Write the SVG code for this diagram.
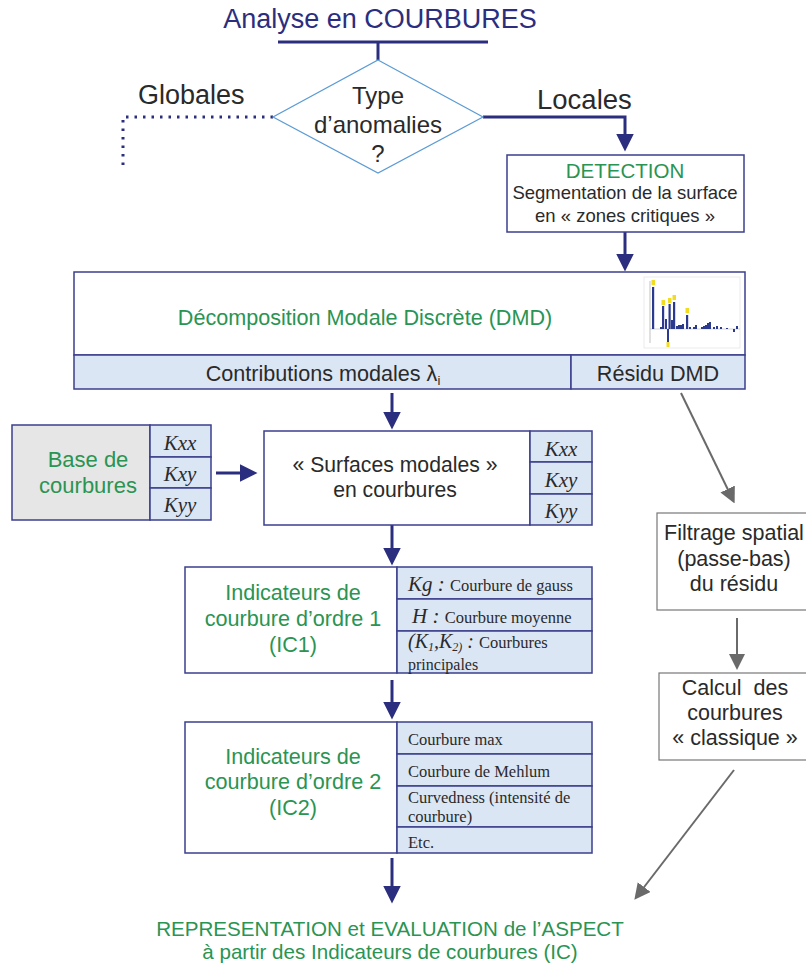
<svg xmlns="http://www.w3.org/2000/svg" width="806" height="964" viewBox="0 0 806 964">
<defs>
<style>
.sans{font-family:"Liberation Sans",Arial,sans-serif;}
.serif{font-family:"Liberation Serif","Times New Roman",serif;}
.navy{fill:#2b2e7e;}
.green{fill:#2a9452;}
.dark{fill:#2a2a2a;}
.box{fill:#ffffff;stroke:#3b3f8c;stroke-width:1.5;}
.cell{fill:#dbe6f5;stroke:#3b3f8c;stroke-width:1.5;}
.grey{fill:#e6e6e6;stroke:#3b3f8c;stroke-width:1.5;}
.gbox{fill:#ffffff;stroke:#777;stroke-width:1.2;}
.nline{stroke:#2b2e7e;stroke-width:3;fill:none;}
.gline{stroke:#6a6a6a;stroke-width:2;fill:none;}
.bar{fill:#2b3a8f;}
.yel{fill:#f2dc22;}
</style>
<marker id="an" markerWidth="6" markerHeight="6" refX="3.5" refY="3" orient="auto" markerUnits="strokeWidth" viewBox="0 0 6 6">
<path d="M0,0 L6,3 L0,6 Z" fill="#2b2e7e"/>
</marker>
<marker id="ag" markerWidth="8" markerHeight="8" refX="5" refY="4" orient="auto" markerUnits="strokeWidth" viewBox="0 0 8 8">
<path d="M0,0 L8,4 L0,8 Z" fill="#6a6a6a"/>
</marker>
</defs>

<g id="title">
<text class="sans navy" x="380" y="28" font-size="27" text-anchor="middle">Analyse en COURBURES</text>
</g>

<g id="connectors">
<line class="nline" x1="278" y1="42" x2="488" y2="42" stroke-width="4"/>
<line class="nline" x1="378" y1="42" x2="378" y2="60"/>
<polyline points="273,117 123,117 123,168" fill="none" stroke="#2b2e7e" stroke-width="3" stroke-dasharray="2.5,6"/>
<polyline class="nline" points="483,117 625,117 625,144" marker-end="url(#an)"/>
<line class="nline" x1="625" y1="232" x2="625" y2="264" marker-end="url(#an)"/>
<line class="nline" x1="392" y1="393" x2="392" y2="422" marker-end="url(#an)"/>
<line class="nline" x1="216" y1="473" x2="250" y2="473" marker-end="url(#an)"/>
<line class="nline" x1="392" y1="525" x2="392" y2="558" marker-end="url(#an)"/>
<line class="nline" x1="392" y1="680" x2="392" y2="712" marker-end="url(#an)"/>
<line class="nline" x1="392" y1="858" x2="392" y2="896" marker-end="url(#an)"/>
<line class="gline" x1="681" y1="393" x2="732" y2="498" marker-end="url(#ag)"/>
<line class="gline" x1="737" y1="618" x2="737" y2="664" marker-end="url(#ag)"/>
<line class="gline" x1="734" y1="770" x2="638" y2="895" marker-end="url(#ag)"/>
</g>

<g id="decision">
<polygon points="378,60 483,117 378,173 273,117" fill="#fff" stroke="#5b9bd5" stroke-width="1.2"/>
<text class="sans dark" x="378" y="104" font-size="24" text-anchor="middle">Type</text>
<text class="sans dark" x="378" y="133" font-size="24" text-anchor="middle">d’anomalies</text>
<text class="sans dark" x="378" y="162" font-size="24" text-anchor="middle">?</text>
</g>

<g id="label-globales">
<text class="sans dark" x="138" y="104" font-size="27">Globales</text>
</g>
<g id="label-locales">
<text class="sans dark" x="537" y="109" font-size="27.5">Locales</text>
</g>

<g id="detection">
<rect class="box" x="507" y="155" width="237" height="77"/>
<text class="sans green" x="625" y="178" font-size="20.5" text-anchor="middle">DETECTION</text>
<text class="sans dark" x="625" y="199" font-size="18.5" text-anchor="middle">Segmentation de la surface</text>
<text class="sans dark" x="625" y="222" font-size="18.5" text-anchor="middle">en « zones critiques »</text>
</g>

<g id="dmd">
<rect class="box" x="74" y="272" width="671" height="83"/>
<rect class="cell" x="74" y="355" width="497" height="34"/>
<rect class="cell" x="571" y="355" width="174" height="34"/>
<text class="sans green" x="365" y="325" font-size="21.6" text-anchor="middle">Décomposition Modale Discrète (DMD)</text>
<text class="sans dark" x="323" y="381" font-size="21.6" text-anchor="middle">Contributions modales λ<tspan font-size="13" dy="4">i</tspan></text>
<text class="sans dark" x="658" y="381" font-size="21.6" text-anchor="middle">Résidu DMD</text>
<g id="chart">
<rect x="644" y="277" width="96" height="71" fill="#fff" stroke="#ddd" stroke-width="0.6"/>
<line x1="650" y1="329" x2="740" y2="329" stroke="#bbb" stroke-width="0.6"/>
<line x1="650" y1="281" x2="650" y2="343" stroke="#999" stroke-width="0.6"/>
<rect class="bar" x="652" y="287" width="2.2" height="42"/>
<rect class="bar" x="660" y="327" width="2" height="2"/>
<rect class="bar" x="662" y="306" width="2.2" height="23"/>
<rect class="bar" x="665" y="319" width="2" height="10"/>
<rect class="bar" x="667" y="329" width="2" height="18"/>
<rect class="bar" x="668.5" y="304" width="2.2" height="25"/>
<rect class="bar" x="671" y="320" width="2" height="9"/>
<rect class="bar" x="673" y="302" width="2.2" height="27"/>
<rect class="bar" x="676" y="326" width="2" height="3"/>
<rect class="bar" x="678" y="325" width="2" height="4"/>
<rect class="bar" x="680" y="325" width="2" height="4"/>
<rect class="bar" x="682" y="324" width="2" height="5"/>
<rect class="bar" x="686" y="315" width="2.2" height="14"/>
<rect class="bar" x="689" y="327" width="2" height="2"/>
<rect class="bar" x="693" y="327" width="2" height="2"/>
<rect class="bar" x="695" y="325" width="2" height="4"/>
<rect class="bar" x="701" y="327" width="2" height="2"/>
<rect class="bar" x="703" y="326" width="2" height="3"/>
<rect class="bar" x="705" y="325" width="2" height="4"/>
<rect class="bar" x="707" y="323" width="2" height="6"/>
<rect class="bar" x="709" y="322" width="2" height="7"/>
<rect class="bar" x="713" y="327" width="2" height="2"/>
<rect class="bar" x="716" y="326" width="2" height="3"/>
<rect class="bar" x="720" y="327" width="2" height="2"/>
<rect class="bar" x="726" y="328" width="2" height="1"/>
<rect class="bar" x="733" y="329" width="2" height="3"/>
<rect class="bar" x="736" y="326" width="2" height="3"/>
<rect class="yel" x="651.5" y="280" width="3.5" height="5"/>
<rect class="yel" x="661.5" y="300" width="3.5" height="5"/>
<rect class="yel" x="668" y="298" width="3.5" height="5"/>
<rect class="yel" x="672.5" y="295" width="3.5" height="5"/>
<rect class="yel" x="685.5" y="308" width="3.5" height="5"/>
<rect class="yel" x="666.5" y="342" width="3" height="5"/>
</g>
</g>

<g id="base-courbures">
<rect class="grey" x="12" y="425" width="138" height="95"/>
<rect class="cell" x="150" y="425" width="61" height="32"/>
<rect class="cell" x="150" y="457" width="61" height="31"/>
<rect class="cell" x="150" y="488" width="61" height="32"/>
<text class="sans green" x="88" y="467" font-size="22" text-anchor="middle">Base de</text>
<text class="sans green" x="88" y="493" font-size="22" text-anchor="middle">courbures</text>
<text class="serif dark" x="180" y="450" font-size="21" font-style="italic" text-anchor="middle">Kxx</text>
<text class="serif dark" x="180" y="481" font-size="21" font-style="italic" text-anchor="middle">Kxy</text>
<text class="serif dark" x="180" y="512" font-size="21" font-style="italic" text-anchor="middle">Kyy</text>
</g>

<g id="surfaces-modales">
<rect class="box" x="264" y="431" width="266" height="94"/>
<rect class="cell" x="530" y="431" width="62" height="31"/>
<rect class="cell" x="530" y="462" width="62" height="32"/>
<rect class="cell" x="530" y="494" width="62" height="31"/>
<text class="sans dark" x="395" y="472" font-size="21.2" text-anchor="middle">« Surfaces modales »</text>
<text class="sans dark" x="395" y="497" font-size="21.2" text-anchor="middle">en courbures</text>
<text class="serif dark" x="561" y="456" font-size="21" font-style="italic" text-anchor="middle">Kxx</text>
<text class="serif dark" x="561" y="487" font-size="21" font-style="italic" text-anchor="middle">Kxy</text>
<text class="serif dark" x="561" y="518" font-size="21" font-style="italic" text-anchor="middle">Kyy</text>
</g>

<g id="ic1">
<rect class="box" x="185" y="567" width="212" height="106"/>
<rect class="cell" x="397" y="567" width="195" height="32"/>
<rect class="cell" x="397" y="599" width="195" height="32"/>
<rect class="cell" x="397" y="631" width="195" height="42"/>
<text class="sans green" x="293" y="600" font-size="21.6" text-anchor="middle">Indicateurs de</text>
<text class="sans green" x="293" y="626" font-size="21.6" text-anchor="middle">courbure d’ordre 1</text>
<text class="sans green" x="293" y="652" font-size="21.6" text-anchor="middle">(IC1)</text>
<text class="serif dark" x="408" y="591" font-size="16.5"><tspan font-size="21" font-style="italic">Kg : </tspan>Courbure de gauss</text>
<text class="serif dark" x="412" y="623" font-size="16.5"><tspan font-size="21" font-style="italic">H : </tspan> Courbure moyenne</text>
<text class="serif dark" x="408" y="648" font-size="16.5"><tspan font-size="20" font-style="italic">(K</tspan><tspan font-size="12" font-style="italic" dy="3">1</tspan><tspan font-size="20" font-style="italic" dy="-3">,K</tspan><tspan font-size="12" font-style="italic" dy="3">2)</tspan><tspan font-size="20" font-style="italic" dy="-3"> : </tspan> Courbures</text>
<text class="serif dark" x="408" y="670" font-size="16">principales</text>
</g>

<g id="ic2">
<rect class="box" x="185" y="722" width="212" height="131"/>
<rect class="cell" x="397" y="722" width="195" height="32"/>
<rect class="cell" x="397" y="754" width="195" height="32"/>
<rect class="cell" x="397" y="786" width="195" height="41"/>
<rect class="cell" x="397" y="827" width="195" height="26"/>
<text class="sans green" x="293" y="764" font-size="21.6" text-anchor="middle">Indicateurs de</text>
<text class="sans green" x="293" y="789" font-size="21.6" text-anchor="middle">courbure d’ordre 2</text>
<text class="sans green" x="293" y="815" font-size="21.6" text-anchor="middle">(IC2)</text>
<text class="serif dark" x="408" y="745" font-size="16.5">Courbure max</text>
<text class="serif dark" x="408" y="777" font-size="16.5">Courbure de Mehlum</text>
<text class="serif dark" x="408" y="803" font-size="16.5">Curvedness (intensité de</text>
<text class="serif dark" x="408" y="822" font-size="16.5">courbure)</text>
<text class="serif dark" x="408" y="848" font-size="16.5">Etc.</text>
</g>

<g id="filtrage">
<rect class="gbox" x="657" y="513" width="152" height="97"/>
<text class="sans dark" x="734" y="540" font-size="21.5" text-anchor="middle">Filtrage spatial</text>
<text class="sans dark" x="734" y="566" font-size="21.5" text-anchor="middle">(passe-bas)</text>
<text class="sans dark" x="734" y="591" font-size="21.5" text-anchor="middle">du résidu</text>
</g>

<g id="calcul">
<rect class="gbox" x="659" y="673" width="150" height="87"/>
<text class="sans dark" x="735" y="695" font-size="21.5" text-anchor="middle" xml:space="preserve">Calcul  des</text>
<text class="sans dark" x="735" y="720" font-size="21.5" text-anchor="middle">courbures</text>
<text class="sans dark" x="735" y="745" font-size="21.5" text-anchor="middle">« classique »</text>
</g>

<g id="representation">
<text class="sans green" x="390" y="936" font-size="20.6" text-anchor="middle">REPRESENTATION et EVALUATION de l’ASPECT</text>
<text class="sans green" x="390" y="959" font-size="20.6" text-anchor="middle">à partir des Indicateurs de courbures (IC)</text>
</g>
</svg>
